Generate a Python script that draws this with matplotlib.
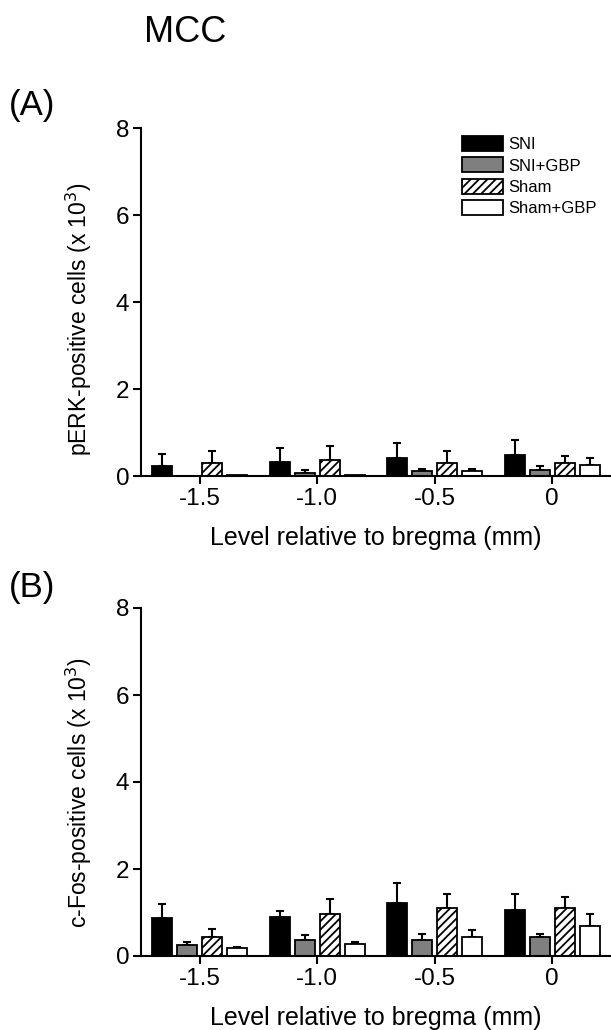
import matplotlib
matplotlib.use("Agg")
import matplotlib.pyplot as plt
import numpy as np

plt.rcParams['font.family'] = ['Liberation Sans', 'DejaVu Sans']
plt.rcParams['hatch.linewidth'] = 1.3

levels = ["-1.5", "-1.0", "-0.5", "0"]
groups = ["SNI", "SNI+GBP", "Sham", "Sham+GBP"]

# pERK-positive cells (x 10^3): means and upper SEM
perk_mean = {
    "SNI":      [0.23, 0.33, 0.41, 0.48],
    "SNI+GBP":  [0.00, 0.08, 0.11, 0.14],
    "Sham":     [0.29, 0.37, 0.30, 0.29],
    "Sham+GBP": [0.03, 0.02, 0.11, 0.25],
}
perk_err = {
    "SNI":      [0.28, 0.31, 0.36, 0.35],
    "SNI+GBP":  [0.00, 0.06, 0.05, 0.08],
    "Sham":     [0.29, 0.33, 0.28, 0.17],
    "Sham+GBP": [0.00, 0.00, 0.05, 0.16],
}

# c-Fos-positive cells (x 10^3): means and upper SEM
cfos_mean = {
    "SNI":      [0.87, 0.89, 1.21, 1.06],
    "SNI+GBP":  [0.26, 0.37, 0.37, 0.43],
    "Sham":     [0.44, 0.96, 1.10, 1.10],
    "Sham+GBP": [0.18, 0.27, 0.44, 0.68],
}
cfos_err = {
    "SNI":      [0.32, 0.14, 0.46, 0.36],
    "SNI+GBP":  [0.06, 0.11, 0.14, 0.08],
    "Sham":     [0.18, 0.34, 0.32, 0.26],
    "Sham+GBP": [0.03, 0.06, 0.16, 0.29],
}

styles = {
    "SNI":      dict(facecolor="black", hatch=None),
    "SNI+GBP":  dict(facecolor="#7f7f7f", hatch=None),
    "Sham":     dict(facecolor="white", hatch="////"),
    "Sham+GBP": dict(facecolor="white", hatch=None),
}

fig = plt.figure(figsize=(6.11, 10.30), dpi=100)

slot = 0.2125
width = 0.17
x = np.arange(len(levels))


def draw_panel(ax, means, errs, ylabel, label_y):
    handles = []
    for i, g in enumerate(groups):
        pos = x + (i - 1.5) * slot
        st = styles[g]
        m = np.array(means[g])
        e = np.array(errs[g])
        bars = ax.bar(pos, m, width=width, facecolor=st["facecolor"],
                      edgecolor="black", linewidth=1.3, hatch=st["hatch"],
                      zorder=2, label=g)
        handles.append(bars)
        show = e > 0
        ax.errorbar(pos[show], m[show], yerr=[np.zeros(show.sum()), e[show]],
                    fmt="none", ecolor="black", elinewidth=1.5, capsize=3,
                    capthick=1.5, zorder=1)
    ax.set_xlim(-0.5, 3.5)
    ax.set_ylim(0, 8)
    ax.set_yticks([0, 2, 4, 6, 8])
    ax.set_xticks(x)
    ax.set_xticklabels(levels)
    for s in ("top", "right"):
        ax.spines[s].set_visible(False)
    for s in ("left", "bottom"):
        ax.spines[s].set_linewidth(1.5)
    ax.tick_params(direction="out", length=5.5, width=1.5, labelsize=17.5, pad=3)
    ax.set_xlabel("Level relative to bregma (mm)", fontsize=18, labelpad=12)
    ax.set_ylabel(ylabel, fontsize=16.5)
    ax.yaxis.set_label_coords(-0.10, label_y)
    return handles


axA = fig.add_axes([141 / 611, 1 - 476 / 1030, 470 / 611, 348 / 1030])
axB = fig.add_axes([141 / 611, 1 - 956 / 1030, 470 / 611, 348 / 1030])

hA = draw_panel(axA, perk_mean, perk_err, r"pERK-positive cells (x 10$^{3}$)", 0.45)
draw_panel(axB, cfos_mean, cfos_err, r"c-Fos-positive cells (x 10$^{3}$)", 0.47)

axA.legend(handles=hA, labels=groups, loc="upper left",
           bbox_to_anchor=(462 / 611, 1 - 136 / 1030), bbox_transform=fig.transFigure,
           frameon=False, fontsize=12, handlelength=2.46, handleheight=1.02,
           labelspacing=0.3, handletextpad=0.3, borderpad=0, borderaxespad=0)

fig.text(144 / 611, 1 - 33 / 1030, "MCC", fontsize=26, va="center", ha="left")
fig.text(9 / 611, 1 - 106 / 1030, "(A)", fontsize=25, va="center", ha="left")
fig.text(9 / 611, 1 - 588 / 1030, "(B)", fontsize=25, va="center", ha="left")

fig.savefig("out.png", dpi=100)
